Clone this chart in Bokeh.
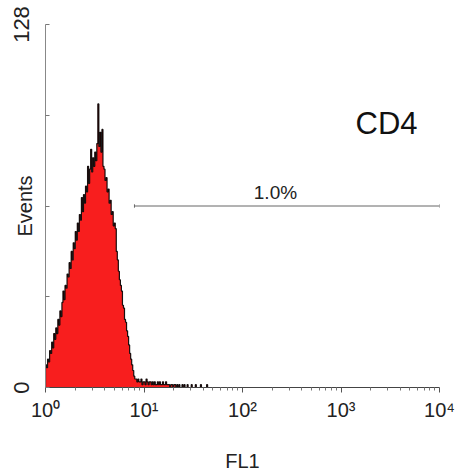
import numpy as np
from bokeh.plotting import figure
from bokeh.models import Range1d, FixedTicker, Label
from bokeh.embed import file_html
from bokeh.resources import INLINE

# ---- data -------------------------------------------------------------
channels_per_decade = 96
# events per channel, starting at 10^0 (channel 0)
counts = [
    8, 7, 10, 9, 13, 12, 16, 14, 19, 17,
    21, 19, 24, 22, 27, 25, 30, 34, 31, 36,
    35, 40, 39, 44, 42, 48, 45, 51, 49, 55,
    52, 58, 55, 61, 59, 67, 62, 68, 65, 71,
    69, 78, 72, 77, 84, 76, 81, 78, 83, 80,
    86, 100, 85, 90, 83, 91, 78, 77, 73, 74,
    69, 70, 65, 66, 61, 62, 57, 58, 56, 48,
    45, 41, 38, 36, 34, 29, 28, 24, 23, 20,
    18, 15, 12, 10, 8, 6, 4, 3, 3, 2,
    3, 2, 2, 3, 1, 2, 2, 1, 3, 2,
    1, 2, 2, 1, 2, 1, 2, 1, 1, 2,
    1, 2, 1, 1, 2, 1, 1, 2, 1, 1,
    1, 0, 1, 1, 0, 1, 1, 0, 1, 0,
    1, 0, 0, 1, 0, 1, 0, 0, 1, 0,
    0, 0, 1, 0, 0, 0, 1, 0, 0, 0,
    0, 1, 0, 0, 0, 0, 0, 1, 0, 0,
]
x_ticks = [1, 10, 100, 1000, 10000]
x_tick_labels = ["10\u2070", "10\u00b9", "10\u00b2", "10\u00b3", "10\u2074"]
y_ticks = [0, 32, 64, 96, 128]
y_tick_labels = ["0", "", "", "", "128"]
marker_start = 8.0
marker_end = 10000
marker_level = 64
marker_text = "1.0%"
panel_title = "CD4"
x_title = "FL1"
y_title = "Events"

FONT = "Liberation Sans"

# ---- figure -----------------------------------------------------------
p = figure(width=459, height=475, x_axis_type="log",
           x_range=Range1d(1, 10000), y_range=Range1d(0, 128),
           output_backend="svg", toolbar_location=None,
           min_border_left=45, min_border_right=20,
           min_border_top=24, min_border_bottom=88)
p.background_fill_color = "white"
p.border_fill_color = "white"
p.outline_line_color = None
p.grid.visible = False

idx = np.arange(len(counts))
left = 10.0 ** (idx / channels_per_decade)
right = 10.0 ** ((idx + 1) / channels_per_decade)

xs = [1.0]
ys = [0.0]
for l, r, c in zip(left, right, counts):
    xs += [l, r]
    ys += [c, c]
xs.append(right[-1])
ys.append(0.0)
p.patch(xs, ys, fill_color="#F81E1E", line_color=None)
p.line(xs, ys, line_color="black", line_width=1.2, line_alpha=0.9)

# marker gate
p.segment(x0=[marker_start], y0=[marker_level], x1=[marker_end], y1=[marker_level],
          line_color="#666666", line_width=1)
p.segment(x0=[marker_start, marker_end], y0=[marker_level - 0.6] * 2,
          x1=[marker_start, marker_end], y1=[marker_level + 0.6] * 2,
          line_color="#666666", line_width=1)

p.add_layout(Label(x=216, y=68.6, text=marker_text,
                   text_align="center", text_baseline="middle",
                   text_font=FONT, text_font_size="19px", text_color="#222222"))
p.add_layout(Label(x=2897, y=93, text=panel_title,
                   text_align="center", text_baseline="middle",
                   text_font=FONT, text_font_size="31px", text_color="#111111"))

# ---- axes -------------------------------------------------------------
minor = [m * 10 ** d for d in range(4) for m in range(2, 10)]
xa = p.xaxis[0]
xa.ticker = FixedTicker(ticks=x_ticks, minor_ticks=minor)
xa.major_label_overrides = dict(zip(x_ticks, x_tick_labels))
xa.axis_line_color = "#444444"
xa.major_tick_line_color = "#555555"
xa.minor_tick_line_color = "#777777"
xa.major_tick_in = 0
xa.major_tick_out = 5
xa.minor_tick_in = 0
xa.minor_tick_out = 3
xa.major_label_text_font = FONT
xa.major_label_text_font_size = "20px"
xa.major_label_text_color = "#222222"
xa.major_label_standoff = 6
xa.axis_label = x_title
xa.axis_label_text_font = FONT
xa.axis_label_text_font_style = "normal"
xa.axis_label_text_font_size = "20px"
xa.axis_label_text_color = "#222222"
xa.axis_label_standoff = 26

ya = p.yaxis[0]
ya.ticker = FixedTicker(ticks=y_ticks)
ya.major_label_overrides = dict(zip(y_ticks, y_tick_labels))
ya.axis_line_color = "#888888"
ya.major_tick_line_color = "#777777"
ya.major_tick_in = 4
ya.major_tick_out = 0
ya.minor_tick_line_color = None
ya.major_label_orientation = "vertical"
ya.major_label_text_font = FONT
ya.major_label_text_font_size = "22px"
ya.major_label_text_color = "#222222"
ya.major_label_standoff = 17
ya.axis_label = y_title
ya.axis_label_text_font = FONT
ya.axis_label_text_font_style = "normal"
ya.axis_label_text_font_size = "20px"
ya.axis_label_text_color = "#222222"
ya.axis_label_standoff = -25

open("out.html", "w").write(file_html(p, INLINE))
